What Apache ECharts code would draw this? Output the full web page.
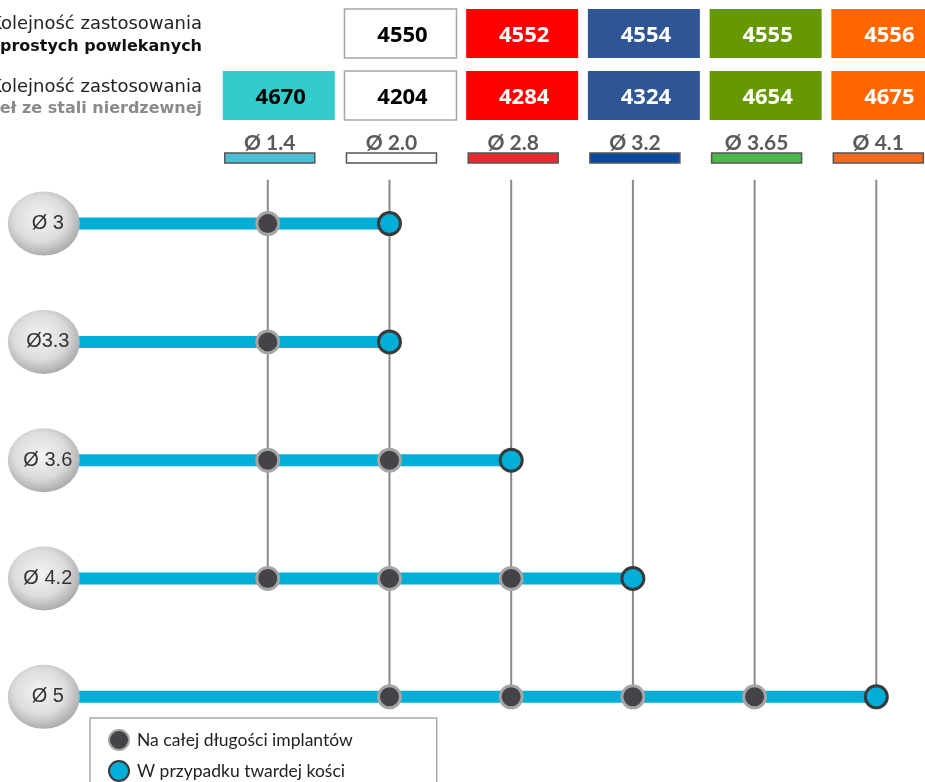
<!DOCTYPE html>
<html>
<head>
<meta charset="utf-8">
<script src="https://cdn.jsdelivr.net/npm/echarts@6/dist/echarts.min.js"></script>
<style>
  html, body { margin: 0; padding: 0; background: #fff; }
  #chart { width: 925px; height: 782px; }
</style>
</head>
<body>
<div id="chart"></div>
<script>
// drill columns
const drillLabels = ['Ø 1.4', 'Ø 2.0', 'Ø 2.8', 'Ø 3.2', 'Ø 3.65', 'Ø 4.1'];
const coatedCodes = ['', '4550', '4552', '4554', '4555', '4556'];
const steelCodes = ['4670', '4204', '4284', '4324', '4654', '4675'];

// implant rows
const implantLabels = ['Ø 3', 'Ø3.3', 'Ø 3.6', 'Ø 4.2', 'Ø 5'];
const fullLengthDrills = [[0], [0], [0, 1], [0, 1, 2], [1, 2, 3, 4]];
const hardBoneDrill = [1, 1, 2, 3, 5];

const boxColors = ['#33cccc', '#ffffff', '#ff0000', '#2f5597', '#669900', '#ff6600'];
const boxTextColors = ['#000', '#000', '#fff', '#fff', '#fff', '#fff'];
const barColors = ['#4cbfd7', '#ffffff', '#e8292f', '#0a4a9e', '#4db848', '#f26b21'];

// header levels, in row units of the y axis
const Y_COATED = -1.607, Y_STEEL = -1.083, Y_LABEL = -0.69, Y_BAR = -0.555, Y_LINE_TOP = -0.37;
const SPHERE_X = -1.84;

// last row that uses each drill -> where its vertical line stops
const lastRow = drillLabels.map((_, c) => {
    let last = -1;
    implantLabels.forEach((_, r) => {
        if (fullLengthDrills[r].includes(c) || hardBoneDrill[r] === c) last = r;
    });
    return last;
});

const fullLengthPoints = [];
fullLengthDrills.forEach((cols, r) => cols.forEach(c => fullLengthPoints.push([c, r])));
const hardBonePoints = hardBoneDrill.map((c, r) => [c, r]);

const chart = echarts.init(document.getElementById('chart'));

const option = {
    animation: false,
    grid: { left: 0, right: 0, top: 0, bottom: 0 },
    xAxis: { type: 'value', min: -2.2, max: 5.4, show: false },
    yAxis: { type: 'value', min: -1.89, max: 4.72, inverse: true, show: false },
    legend: {
        orient: 'vertical',
        left: 90,
        top: 718,
        height: 120,
        padding: [11, 84, 12, 18],
        itemGap: 9,
        itemWidth: 20,
        itemHeight: 20,
        backgroundColor: '#fff',
        borderColor: '#aaa',
        borderWidth: 1.5,
        borderRadius: 0,
        textStyle: { fontFamily: 'Lato', fontSize: 17.5, color: '#222', padding: [0, 0, 0, 3] },
        data: [
            { name: 'Na całej długości implantów', icon: 'circle' },
            { name: 'W przypadku twardej kości', icon: 'circle' }
        ]
    },
    graphic: [
        { type: 'text', x: 202, y: 24, style: { text: 'Kolejność zastosowania', textAlign: 'right', textVerticalAlign: 'middle', font: '18px "DejaVu Sans"', fill: '#222' } },
        { type: 'text', x: 202, y: 47, style: { text: 'wierteł prostych powlekanych', textAlign: 'right', textVerticalAlign: 'middle', font: 'bold 16px "DejaVu Sans"', fill: '#111' } },
        { type: 'text', x: 202, y: 87, style: { text: 'Kolejność zastosowania', textAlign: 'right', textVerticalAlign: 'middle', font: '18px "DejaVu Sans"', fill: '#222' } },
        { type: 'text', x: 202, y: 109, style: { text: 'wierteł ze stali nierdzewnej', textAlign: 'right', textVerticalAlign: 'middle', font: 'bold 16px "DejaVu Sans"', fill: '#8a8a8a' } }
    ],
    series: [
        {
            // code boxes and drill diameter bars
            name: 'header',
            type: 'custom',
            silent: true,
            z: 5,
            data: drillLabels.map((_, i) => [i]),
            encode: { x: 0 },
            renderItem: function (params, api) {
                const i = params.dataIndex;
                const kids = [];
                const addBox = (code, yv) => {
                    const p = api.coord([i, yv]);
                    const isWhite = boxColors[i] === '#ffffff';
                    kids.push({
                        type: 'rect',
                        shape: { x: p[0] - 45, y: p[1] - 24.5, width: 112, height: 49 },
                        style: { fill: boxColors[i], stroke: isWhite ? '#a6a6a6' : null, lineWidth: isWhite ? 1.5 : 0 }
                    });
                    kids.push({
                        type: 'text',
                        x: p[0] + 13, y: p[1] + 2,
                        style: {
                            text: code, textAlign: 'center', textVerticalAlign: 'middle',
                            font: 'bold 22px "Open Sans"', fill: boxTextColors[i]
                        }
                    });
                };
                if (coatedCodes[i]) addBox(coatedCodes[i], Y_COATED);
                if (steelCodes[i]) addBox(steelCodes[i], Y_STEEL);
                const pl = api.coord([i, Y_LABEL]);
                kids.push({
                    type: 'text',
                    x: pl[0] + 2, y: pl[1] + 1,
                    style: {
                        text: drillLabels[i], textAlign: 'center', textVerticalAlign: 'middle',
                        font: 'bold 21px Lato', fill: '#5a5a5a'
                    }
                });
                const pb = api.coord([i, Y_BAR]);
                kids.push({
                    type: 'rect',
                    shape: { x: pb[0] - 43, y: pb[1] - 5, width: 90, height: 10 },
                    style: { fill: barColors[i], stroke: '#555', lineWidth: 1.5 }
                });
                return { type: 'group', children: kids };
            }
        },
        {
            // vertical drill lines
            name: 'drillLines',
            type: 'custom',
            silent: true,
            z: 1,
            data: drillLabels.map((_, i) => [i, lastRow[i]]),
            encode: { x: 0, y: 1 },
            renderItem: function (params, api) {
                const top = api.coord([api.value(0), Y_LINE_TOP]);
                const bottom = api.coord([api.value(0), api.value(1)]);
                return {
                    type: 'line',
                    shape: { x1: top[0], y1: top[1], x2: bottom[0], y2: bottom[1] },
                    style: { stroke: '#8a8a8a', lineWidth: 2 }
                };
            }
        },
        {
            // blue implant rows
            name: 'implantLines',
            type: 'custom',
            silent: true,
            z: 2,
            data: hardBoneDrill.map((c, r) => [c, r]),
            encode: { x: 0, y: 1 },
            renderItem: function (params, api) {
                const r = api.value(1);
                const start = api.coord([SPHERE_X, r]);
                const end = api.coord([api.value(0), r]);
                return {
                    type: 'line',
                    shape: { x1: start[0], y1: start[1], x2: end[0], y2: end[1] },
                    style: { stroke: '#00aed6', lineWidth: 12 }
                };
            }
        },
        {
            name: 'implants',
            type: 'scatter',
            silent: true,
            z: 3,
            symbol: 'circle',
            symbolSize: [72, 64],
            data: implantLabels.map((_, r) => [SPHERE_X, r]),
            itemStyle: {
                opacity: 1,
                color: {
                    type: 'radial', x: 0.45, y: 0.42, r: 0.6,
                    colorStops: [
                        { offset: 0, color: '#f4f4f4' },
                        { offset: 0.6, color: '#dcdcdc' },
                        { offset: 1, color: '#a8a8a8' }
                    ]
                }
            },
            label: {
                show: true,
                position: 'inside',
                formatter: p => implantLabels[p.dataIndex],
                fontFamily: 'Liberation Sans',
                fontSize: 20,
                color: '#333',
                offset: [4, 0]
            }
        },
        {
            name: 'Na całej długości implantów',
            type: 'scatter',
            z: 4,
            symbol: 'circle',
            symbolSize: 22,
            data: fullLengthPoints,
            itemStyle: { opacity: 1, color: '#444448', borderColor: '#a5a5a5', borderWidth: 3 }
        },
        {
            name: 'W przypadku twardej kości',
            type: 'scatter',
            z: 4,
            symbol: 'circle',
            symbolSize: 22,
            data: hardBonePoints,
            itemStyle: { opacity: 1, color: '#00aed8', borderColor: '#3a3a3a', borderWidth: 3 }
        }
    ]
};

chart.setOption(option);
</script>
</body>
</html>
